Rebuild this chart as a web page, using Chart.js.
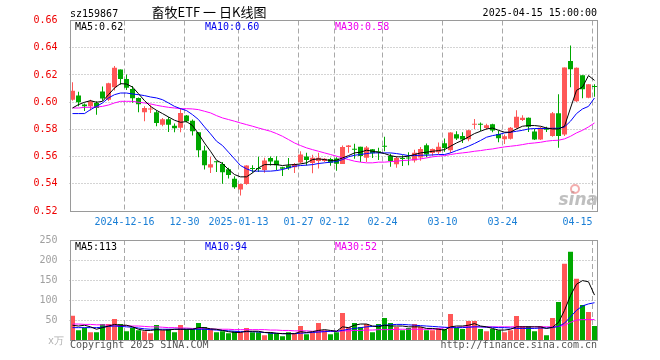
<!DOCTYPE html>
<html><head><meta charset="utf-8">
<script src="https://cdn.jsdelivr.net/npm/chart.js@4/dist/chart.umd.min.js"></script>
<style>
html,body{margin:0;padding:0;background:#fff;}
#wrap{position:relative;width:660px;height:360px;background:#fff;}
canvas{position:absolute;left:0;top:0;}
</style></head><body>
<div id="wrap"><canvas id="k" width="660" height="360"></canvas><canvas id="v" width="660" height="360"></canvas></div>
<script>
const dates=['2024-12-03','2024-12-04','2024-12-05','2024-12-06','2024-12-09','2024-12-10','2024-12-11','2024-12-12','2024-12-13',
'2024-12-16','2024-12-17','2024-12-18','2024-12-19','2024-12-20','2024-12-23','2024-12-24','2024-12-25','2024-12-26','2024-12-27',
'2024-12-30','2024-12-31','2025-01-02','2025-01-03','2025-01-06','2025-01-07','2025-01-08','2025-01-09','2025-01-10',
'2025-01-13','2025-01-14','2025-01-15','2025-01-16','2025-01-17','2025-01-20','2025-01-21','2025-01-22','2025-01-23','2025-01-24',
'2025-01-27','2025-02-05','2025-02-06','2025-02-07','2025-02-10','2025-02-11','2025-02-12','2025-02-13','2025-02-14',
'2025-02-17','2025-02-18','2025-02-19','2025-02-20','2025-02-21','2025-02-24','2025-02-25','2025-02-26','2025-02-27','2025-02-28',
'2025-03-03','2025-03-04','2025-03-05','2025-03-06','2025-03-07','2025-03-10','2025-03-11','2025-03-12','2025-03-13','2025-03-14',
'2025-03-17','2025-03-18','2025-03-19','2025-03-20','2025-03-21','2025-03-24','2025-03-25','2025-03-26','2025-03-27','2025-03-28',
'2025-03-31','2025-04-01','2025-04-02','2025-04-03','2025-04-07','2025-04-08','2025-04-09','2025-04-10','2025-04-11',
'2025-04-14','2025-04-15'];
const tickDates=['2024-12-16','2024-12-30','2025-01-13','2025-01-27','2025-02-12','2025-02-24','2025-03-10','2025-03-24','2025-04-15'];
const tickTexts=['2024-12-16','12-30','2025-01-13','01-27','02-12','02-24','03-10','03-24','04-15'];
const priceTicks=[0.52,0.54,0.56,0.58,0.60,0.62,0.64,0.66];
const volTicks=[0,50,100,150,200,250];

const open=[0.6018,0.6048,0.5982,0.5969,0.5994,0.6078,0.6017,0.6110,0.6239,0.6170,0.6097,0.6030,0.5925,0.5946,0.5925,0.5834,0.5875,0.5827,0.5811,0.5901,
0.5864,0.5779,0.5644,0.5520,0.5562,0.5546,0.5507,0.5437,0.5358,0.5398,0.5512,0.5512,0.5502,0.5589,0.5571,0.5522,0.5534,0.5522,0.5556,0.5601,
0.5552,0.5567,0.5567,0.5582,0.5585,0.5546,0.5670,0.5655,0.5672,0.5591,0.5653,0.5636,0.5676,0.5604,0.5543,0.5587,0.5589,0.5571,0.5594,0.5683,
0.5626,0.5631,0.5698,0.5647,0.5764,0.5751,0.5727,0.5833,0.5839,0.5810,0.5837,0.5765,0.5728,0.5731,0.5811,0.5869,0.5886,0.5784,0.5726,0.5805,
0.5751,0.5918,0.5763,0.6303,0.6006,0.6198,0.6033,0.6116];
const high=[0.6146,0.6077,0.5990,0.6018,0.6006,0.6115,0.6143,0.6266,0.6240,0.6203,0.6118,0.6035,0.5970,0.5980,0.5940,0.5884,0.5890,0.5843,0.5957,0.5906,
0.5872,0.5781,0.5680,0.5599,0.5565,0.5560,0.5517,0.5456,0.5400,0.5537,0.5537,0.5599,0.5591,0.5601,0.5602,0.5525,0.5590,0.5553,0.5640,0.5628,
0.5613,0.5628,0.5590,0.5591,0.5595,0.5682,0.5685,0.5695,0.5673,0.5677,0.5656,0.5665,0.5745,0.5620,0.5603,0.5610,0.5631,0.5650,0.5670,0.5696,
0.5660,0.5704,0.5733,0.5779,0.5786,0.5778,0.5798,0.5876,0.5850,0.5842,0.5842,0.5790,0.5763,0.5817,0.5940,0.5903,0.5887,0.5803,0.5820,0.5820,
0.5928,0.6058,0.6254,0.6417,0.6254,0.6198,0.6131,0.6131];
const low=[0.6010,0.5969,0.5935,0.5938,0.5908,0.6010,0.6008,0.6085,0.6128,0.6090,0.5995,0.5925,0.5860,0.5920,0.5823,0.5823,0.5780,0.5779,0.5779,0.5850,
0.5755,0.5595,0.5505,0.5480,0.5487,0.5401,0.5438,0.5363,0.5314,0.5392,0.5482,0.5486,0.5481,0.5535,0.5499,0.5458,0.5503,0.5480,0.5550,0.5535,
0.5478,0.5513,0.5560,0.5532,0.5495,0.5545,0.5628,0.5584,0.5560,0.5560,0.5590,0.5575,0.5640,0.5526,0.5518,0.5531,0.5537,0.5557,0.5569,0.5595,
0.5606,0.5618,0.5635,0.5627,0.5722,0.5700,0.5713,0.5802,0.5788,0.5798,0.5779,0.5705,0.5693,0.5726,0.5805,0.5861,0.5780,0.5721,0.5721,0.5780,
0.5746,0.5665,0.5751,0.6110,0.6001,0.6028,0.6028,0.6040];
const close=[0.6084,0.5999,0.5970,0.6006,0.5957,0.6027,0.6138,0.6252,0.6170,0.6106,0.6028,0.5985,0.5957,0.5951,0.5847,0.5874,0.5833,0.5808,0.5921,0.5859,
0.5787,0.5647,0.5537,0.5543,0.5559,0.5485,0.5464,0.5375,0.5398,0.5535,0.5508,0.5508,0.5571,0.5564,0.5537,0.5511,0.5514,0.5546,0.5615,0.5574,
0.5591,0.5591,0.5584,0.5555,0.5548,0.5670,0.5682,0.5650,0.5604,0.5667,0.5625,0.5632,0.5672,0.5567,0.5589,0.5583,0.5585,0.5629,0.5655,0.5616,
0.5655,0.5672,0.5663,0.5776,0.5733,0.5725,0.5794,0.5838,0.5834,0.5831,0.5791,0.5735,0.5750,0.5811,0.5892,0.5886,0.5820,0.5726,0.5812,0.5798,
0.5918,0.5751,0.6254,0.6242,0.6252,0.6095,0.6131,0.6111];
const ma5=[0.5957,0.5982,0.5999,0.6011,0.5999,0.6006,0.6055,0.6104,0.6136,0.6133,0.6111,0.6062,0.6011,0.5969,0.5940,0.5916,0.5891,0.5867,0.5852,0.5857,
0.5828,0.5767,0.5700,0.5639,0.5573,0.5549,0.5505,0.5468,0.5451,0.5451,0.5480,0.5517,0.5541,0.5541,0.5541,0.5534,0.5539,0.5541,0.5546,0.5554,
0.5578,0.5583,0.5578,0.5571,0.5573,0.5590,0.5607,0.5627,0.5632,0.5647,0.5639,0.5632,0.5622,0.5607,0.5598,0.5598,0.5603,0.5615,0.5627,0.5632,
0.5639,0.5644,0.5651,0.5676,0.5700,0.5720,0.5744,0.5769,0.5786,0.5803,0.5810,0.5793,0.5779,0.5779,0.5803,0.5823,0.5828,0.5828,0.5823,0.5810,
0.5803,0.5803,0.5823,0.5957,0.6087,0.6111,0.6195,0.6160];
const ma10=[0.5916,0.5916,0.5916,0.5945,0.5969,0.5994,0.6031,0.6055,0.6067,0.6067,0.6060,0.6055,0.6048,0.6038,0.6031,0.6018,0.5994,0.5969,0.5952,0.5938,
0.5908,0.5872,0.5818,0.5767,0.5713,0.5681,0.5632,0.5583,0.5534,0.5510,0.5493,0.5493,0.5493,0.5493,0.5497,0.5505,0.5517,0.5529,0.5534,0.5537,
0.5541,0.5549,0.5554,0.5559,0.5563,0.5578,0.5598,0.5610,0.5615,0.5622,0.5627,0.5627,0.5627,0.5627,0.5622,0.5615,0.5607,0.5607,0.5610,0.5610,
0.5612,0.5615,0.5615,0.5627,0.5644,0.5659,0.5676,0.5696,0.5718,0.5742,0.5754,0.5762,0.5774,0.5779,0.5786,0.5793,0.5803,0.5806,0.5806,0.5806,
0.5808,0.5808,0.5818,0.5860,0.5916,0.5950,0.5969,0.6031];
const ma30=[0.5957,0.5957,0.5962,0.5962,0.5964,0.5969,0.5979,0.5994,0.6006,0.6006,0.6006,0.5999,0.5994,0.5987,0.5977,0.5969,0.5962,0.5957,0.5952,0.5952,
0.5950,0.5945,0.5933,0.5921,0.5901,0.5884,0.5872,0.5860,0.5847,0.5835,0.5823,0.5810,0.5798,0.5786,0.5769,0.5749,0.5725,0.5700,0.5681,0.5664,
0.5651,0.5639,0.5627,0.5615,0.5603,0.5590,0.5578,0.5566,0.5559,0.5554,0.5554,0.5559,0.5559,0.5563,0.5566,0.5571,0.5573,0.5578,0.5583,0.5590,
0.5598,0.5603,0.5607,0.5615,0.5622,0.5627,0.5632,0.5639,0.5644,0.5651,0.5656,0.5664,0.5671,0.5676,0.5681,0.5688,0.5696,0.5700,0.5705,0.5713,
0.5718,0.5720,0.5730,0.5749,0.5774,0.5793,0.5818,0.5847];
const volume=[61.7,25.8,31.7,20.8,20.8,40.8,40.8,53.3,40.8,23.3,31.7,25.8,23.3,18.3,38.3,25.8,28.3,20.8,38.3,28.3,
28.3,43.3,33.3,28.3,20.8,23.3,18.3,23.3,20.8,30.8,20.8,20.8,13.3,20.8,18.3,10.8,20.8,18.3,35.8,15.8,
20.8,43.3,25.8,15.8,20.8,68.3,33.3,43.3,33.3,40.8,20.8,40.8,55.8,43.3,33.3,25.8,30.8,40.8,33.3,25.8,
25.8,30.8,28.3,65.8,30.8,28.3,48.3,48.3,28.3,23.3,28.3,25.8,20.8,25.8,60.8,35.8,35.8,23.3,35.8,13.3,
55.8,95.8,190.8,220.8,153.3,88.3,70.8,35.8];
const volMa5=[38,36,38,34,28,32,36,40,38,38,34,28,25,25,27,26,26,28,28,28,
28,32,32,29,28,25,22,20,20,23,23,23,20,20,18,17,17,17,22,20,
22,25,27,25,23,34,32,38,41,41,36,34,38,36,36,36,34,34,34,30,
30,28,26,34,36,36,38,42,36,34,30,26,26,28,34,34,34,34,34,30,
33,45,75,112,140,149,146,113];
const volMa10=[32,32,32,32,32,33,35,36,35,34,33,31,29,28,28,28,28,28,28,28,
28,28,28,27,26,25,24,23,22,22,22,21,20,18,18,17,17,17,18,19,
20,21,22,23,23,25,28,30,32,34,35,37,38,39,40,40,39,38,37,36,
35,34,33,32,32,32,33,34,34,33,33,32,32,31,30,30,30,30,31,31,
32,35,43,59,75,86,91,94];
const volMa30=[41,41,40,40,39,39,38,38,37,37,36,36,35,34,34,33,32,32,31,31,
30,30,29,29,28,28,28,27,27,27,27,27,27,26,26,25,25,24,24,24,
23,23,23,23,23,24,24,25,25,26,26,27,27,27,28,28,28,28,28,28,
28,29,32,33,33,34,34,34,34,34,34,34,34,34,34,34,34,34,34,34,
34,35,38,45,51,52,52,52];

const UP='#ff5757', DOWN='#00a800';
const MONO='"DejaVu Sans Mono", "Liberation Mono", monospace';
const candleColors=dates.map((d,i)=>close[i]>=open[i]?UP:DOWN);
const tickIdx=tickDates.map(d=>dates.indexOf(d));
const GRID='#a8a8a8';

// grid lines drawn through the library's scales (positions from scale pixels)
function gridPlugin(yTicks){
  return {id:'grid'+Math.random().toString(36).slice(2),
    beforeDatasetsDraw(chart){
      const ctx=chart.ctx,a=chart.chartArea,xs=chart.scales.x,ys=chart.scales.y;
      ctx.save();
      ctx.strokeStyle=GRID;ctx.lineWidth=1;
      ctx.setLineDash([1,2]);
      yTicks.forEach(v=>{
        const y=Math.floor(ys.getPixelForValue(v))+0.5;
        ctx.beginPath();ctx.moveTo(a.left,y);ctx.lineTo(a.right,y);ctx.stroke();
      });
      ctx.setLineDash([5,3]);
      tickIdx.forEach(idx=>{
        const x=Math.floor(xs.getPixelForValue(idx)-2)+0.5;
        ctx.beginPath();ctx.moveTo(x,a.top);ctx.lineTo(x,a.bottom);ctx.stroke();
      });
      ctx.restore();
    }};
}
function xScaleOpts(h){
  return {type:'category',offset:true,
    grid:{display:false},border:{display:false},
    ticks:{display:false,autoSkip:false},
    afterFit:s=>{s.height=h;}};
}
function boxPlugin(drawText){
  return {id:'decor'+Math.random().toString(36).slice(2),
    afterDraw(chart){
      const ctx=chart.ctx, a=chart.chartArea;
      ctx.save();
      ctx.strokeStyle='#9a9a9a';ctx.lineWidth=1;
      const l=Math.ceil(a.left)+0.5,t=Math.floor(a.top)+0.5,r=Math.floor(a.right)+0.5,b=Math.floor(a.bottom)+0.5;
      ctx.strokeRect(l,t,r-l,b-t);
      ctx.restore();
      ctx.save();drawText(chart,ctx,a);ctx.restore();
    }};
}
function lineDs(data,color){
  return {type:'line',data:data,borderColor:color,borderWidth:1,pointRadius:0,tension:0,fill:false,order:0};
}

new Chart(document.getElementById('k'),{
  type:'bar',
  data:{labels:dates,datasets:[
    lineDs(ma5,'#000000'),lineDs(ma10,'#0000ff'),lineDs(ma30,'#ff00ff'),
    {data:dates.map((d,i)=>[open[i],close[i]]),backgroundColor:candleColors,barThickness:5,minBarLength:1,grouped:false,inflateAmount:0,borderWidth:0,order:1},
    {data:dates.map((d,i)=>[low[i],high[i]]),backgroundColor:candleColors,barThickness:1,grouped:false,inflateAmount:0,borderWidth:0,order:2}
  ]},
  options:{responsive:false,animation:false,devicePixelRatio:1,
    layout:{padding:{left:0,right:62.5,top:20.5,bottom:0}},
    plugins:{legend:{display:false},tooltip:{enabled:false}},
    scales:{
      x:xScaleOpts(149),
      y:{min:priceTicks[0],max:priceTicks[priceTicks.length-1],beginAtZero:false,
        afterBuildTicks:s=>{s.ticks=priceTicks.map(v=>({value:v}));},
        ticks:{callback:v=>Number(v).toFixed(2),color:'#ee0000',font:{family:MONO,size:10},padding:4},
        grid:{display:false},border:{display:false},
        afterFit:s=>{s.width=69.5;}}
    }},
  plugins:[gridPlugin(priceTicks.slice(1,-1)),boxPlugin((chart,ctx,a)=>{
    ctx.font='10px '+MONO;ctx.textBaseline='alphabetic';
    ctx.fillStyle='#000';ctx.textAlign='left';ctx.fillText('sz159867',70,16.5);
    ctx.textAlign='right';ctx.fillText('2025-04-15 15:00:00',597,16);
    ctx.textAlign='left';
    ctx.fillStyle='#000';ctx.fillText('MA5:'+ma5[ma5.length-1].toFixed(2),75,30);
    ctx.fillStyle='#0000ee';ctx.fillText('MA10:'+ma10[ma10.length-1].toFixed(2),205,30);
    ctx.fillStyle='#ee00ee';ctx.fillText('MA30:'+ma30[ma30.length-1].toFixed(2),335,30);
    ctx.font='13px "Noto Sans CJK SC"';ctx.fillStyle='#000';ctx.textAlign='center';
    ctx.fillText('畜牧ETF 一 日K线图',209,17);
    const xs=chart.scales.x;
    ctx.font='10px '+MONO;ctx.fillStyle='#1a7fd6';
    tickIdx.forEach((idx,k)=>{
      const gx=xs.getPixelForValue(idx)-2;
      ctx.textAlign=(idx===dates.length-1)?'right':'center';
      ctx.fillText(tickTexts[k],gx,225);
    });
    ctx.textAlign='right';ctx.font='italic bold 17px "DejaVu Sans"';ctx.fillStyle='rgba(170,170,170,0.75)';
    ctx.fillText('sina',598,205);
    ctx.strokeStyle='rgba(235,120,120,0.6)';ctx.lineWidth=2;
    ctx.beginPath();ctx.arc(575,189,4,0,Math.PI*2);ctx.stroke();
  })]
});

new Chart(document.getElementById('v'),{
  type:'bar',
  data:{labels:dates,datasets:[
    lineDs(volMa5,'#000000'),lineDs(volMa10,'#0000ff'),lineDs(volMa30,'#ff00ff'),
    {data:volume,backgroundColor:candleColors,barThickness:5,grouped:false,inflateAmount:0,borderWidth:0,order:1}
  ]},
  options:{responsive:false,animation:false,devicePixelRatio:1,
    layout:{padding:{left:0,right:62.5,top:240,bottom:0}},
    plugins:{legend:{display:false},tooltip:{enabled:false}},
    scales:{
      x:xScaleOpts(19.5),
      y:{min:volTicks[0],max:volTicks[volTicks.length-1],
        afterBuildTicks:s=>{s.ticks=volTicks.map(v=>({value:v}));},
        ticks:{callback:v=>v===0?'':String(v),color:'#a0a0a0',font:{family:MONO,size:10},padding:4},
        grid:{display:false},border:{display:false},
        afterFit:s=>{s.width=69.5;}}
    }},
  plugins:[gridPlugin(volTicks.slice(1,-1)),boxPlugin((chart,ctx,a)=>{
    ctx.font='10px '+MONO;ctx.textBaseline='alphabetic';ctx.textAlign='left';
    ctx.fillStyle='#000';ctx.fillText('MA5:'+Math.round(volMa5[volMa5.length-1]),75,250);
    ctx.fillStyle='#0000ee';ctx.fillText('MA10:'+Math.round(volMa10[volMa10.length-1]),205,250);
    ctx.fillStyle='#ee00ee';ctx.fillText('MA30:'+Math.round(volMa30[volMa30.length-1]),335,250);
    ctx.fillStyle='#555';ctx.fillText('Copyright 2025 SINA.COM',70,347.5);
    ctx.textAlign='right';ctx.fillText('http://finance.sina.com.cn',597,347.5);
    ctx.fillStyle='#b0b0b0';ctx.fillText('x万',64,344);
  })]
});
</script>
</body></html>
